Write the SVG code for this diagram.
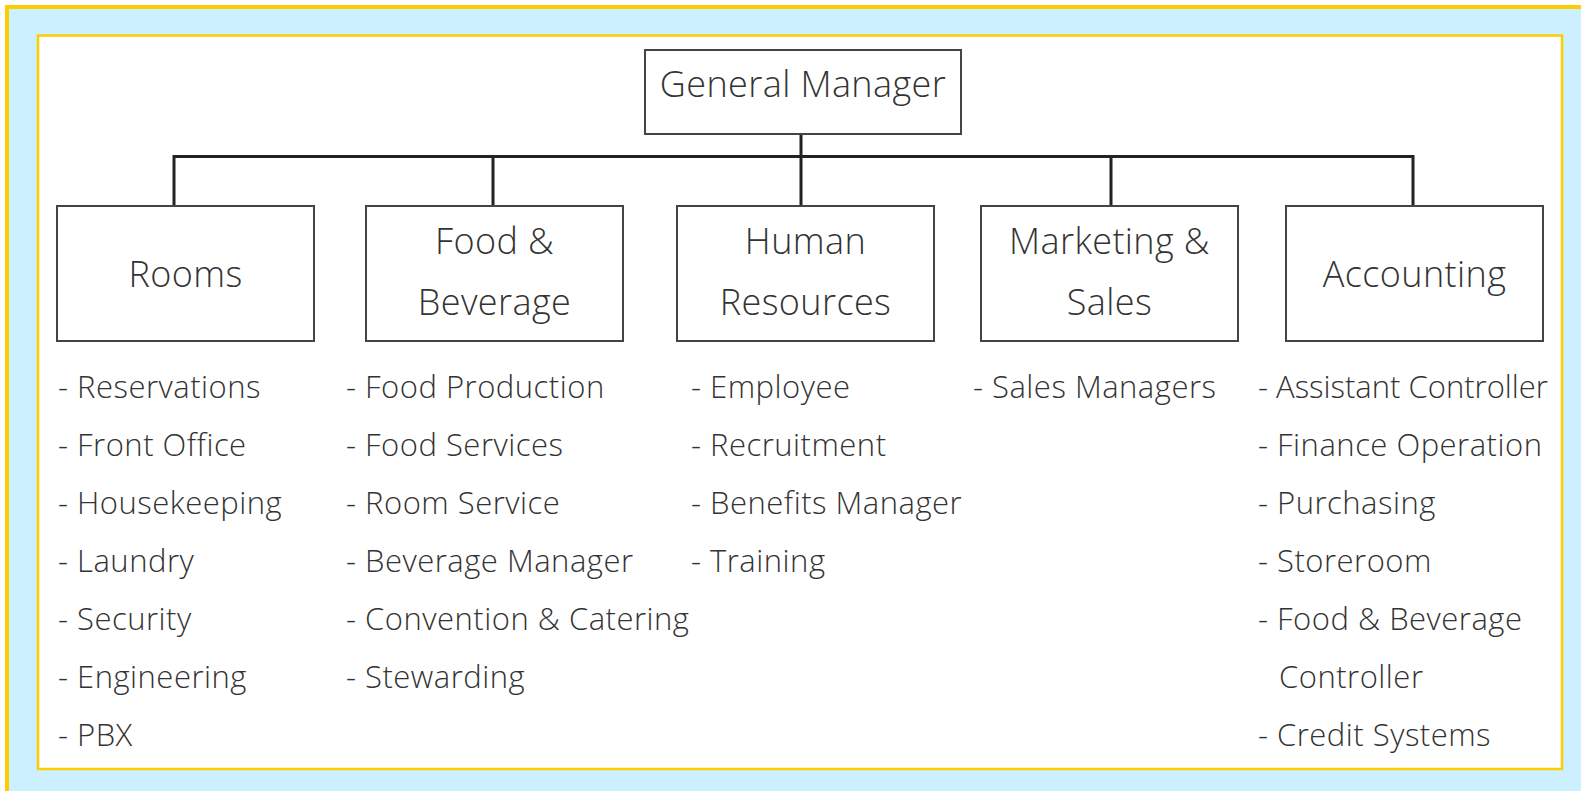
<svg xmlns="http://www.w3.org/2000/svg" width="1581" height="791" viewBox="0 0 1581 791">
<style>
.box{fill:#fff;stroke:#444;stroke-width:2}
.lbl{font-family:"Open Sans","Noto Sans",sans-serif;font-weight:300;font-size:36px;letter-spacing:0.4px;fill:#333;text-anchor:middle}
.li{font-family:"Open Sans","Noto Sans",sans-serif;font-weight:300;font-size:31px;letter-spacing:0.5px;fill:#333}
.tight{letter-spacing:0}
.con{stroke:#222;stroke-width:3;fill:none}
</style>
<rect x="7" y="7" width="1590" height="800" fill="#CCF0FF" stroke="#FFCC00" stroke-width="4"/>
<rect x="38" y="35.5" width="1524" height="733.5" fill="#fff" stroke="#FFCC00" stroke-width="2.5"/>
<g id="connectors">
<path class="con" d="M801 134V206M174 156.5H1413M174 155V206M493 155V206M1111 155V206M1413 155V206"/>
</g>
<g id="gm">
<rect class="box" x="645" y="50" width="316" height="84"/>
<text class="lbl" x="803" y="97">General Manager</text>
</g>
<g id="rooms">
<rect class="box" x="57" y="206" width="257" height="135"/>
<text class="lbl" x="185.5" y="287">Rooms</text>
<text class="li" x="58" y="398">- Reservations</text>
<text class="li" x="58" y="456">- Front Office</text>
<text class="li" x="58" y="514">- Housekeeping</text>
<text class="li" x="58" y="572">- Laundry</text>
<text class="li" x="58" y="630">- Security</text>
<text class="li" x="58" y="688">- Engineering</text>
<text class="li" x="58" y="746">- PBX</text>
</g>
<g id="fb">
<rect class="box" x="366" y="206" width="257" height="135"/>
<text class="lbl" x="494.5" y="254">Food &amp;</text>
<text class="lbl" x="494.5" y="315">Beverage</text>
<text class="li" x="346" y="398">- Food Production</text>
<text class="li" x="346" y="456">- Food Services</text>
<text class="li" x="346" y="514">- Room Service</text>
<text class="li" x="346" y="572">- Beverage Manager</text>
<text class="li" x="346" y="630">- Convention &amp; Catering</text>
<text class="li" x="346" y="688">- Stewarding</text>
</g>
<g id="hr">
<rect class="box" x="677" y="206" width="257" height="135"/>
<text class="lbl" x="805.5" y="254">Human</text>
<text class="lbl" x="805.5" y="315">Resources</text>
<text class="li" x="691" y="398">- Employee</text>
<text class="li" x="691" y="456">- Recruitment</text>
<text class="li" x="691" y="514">- Benefits Manager</text>
<text class="li" x="691" y="572">- Training</text>
</g>
<g id="ms">
<rect class="box" x="981" y="206" width="257" height="135"/>
<text class="lbl" x="1109.5" y="254">Marketing &amp;</text>
<text class="lbl" x="1109.5" y="315">Sales</text>
<text class="li" x="973" y="398">- Sales Managers</text>
</g>
<g id="acc">
<rect class="box" x="1286" y="206" width="257" height="135"/>
<text class="lbl" x="1414.5" y="287">Accounting</text>
<text class="li tight" x="1258" y="398">- Assistant Controller</text>
<text class="li" x="1258" y="456">- Finance Operation</text>
<text class="li" x="1258" y="514">- Purchasing</text>
<text class="li" x="1258" y="572">- Storeroom</text>
<text class="li" x="1258" y="630">- Food &amp; Beverage</text>
<text class="li" x="1279" y="688">Controller</text>
<text class="li" x="1258" y="746">- Credit Systems</text>
</g>
</svg>
